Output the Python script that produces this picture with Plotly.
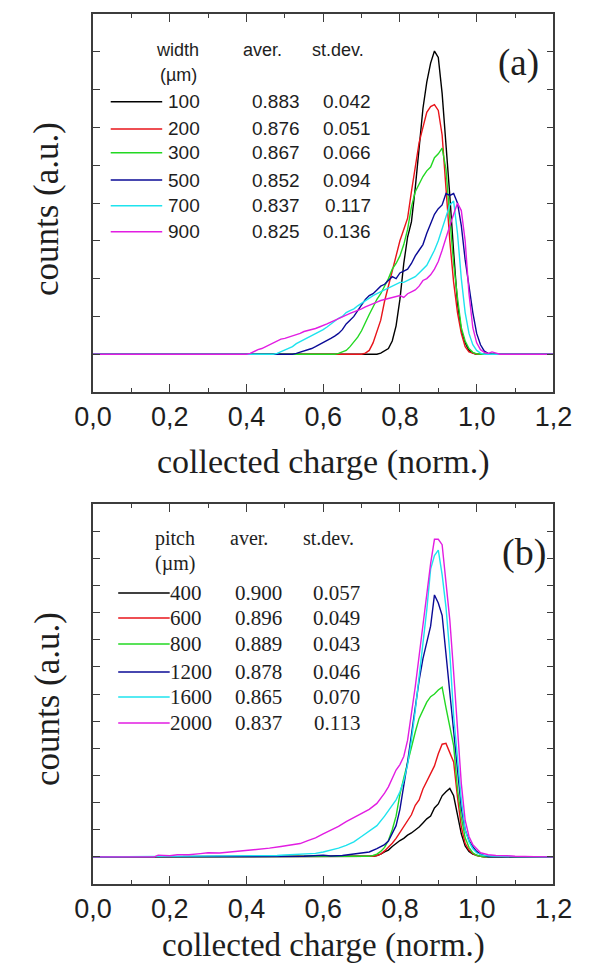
import plotly.graph_objects as go

W, H = 593, 966

# ---------------- data: panel (a) strip width ----------------
A_WIDTH = ["100", "200", "300", "500", "700", "900"]
A_AVER = ["0.883", "0.876", "0.867", "0.852", "0.837", "0.825"]
A_STDEV = ["0.042", "0.051", "0.066", "0.094", "0.117", "0.136"]

A100_X = [0.0, 0.74, 0.75, 0.76, 0.77, 0.78, 0.79, 0.80, 0.81, 0.82, 0.83, 0.84, 0.85, 0.86, 0.87,
          0.88, 0.89, 0.90, 0.91, 0.92, 0.93, 0.94, 0.95, 0.96, 0.97, 0.98, 0.99, 1.00, 1.2]
A100_Y = [0, 0, 0.03, 0.08, 0.15, 0.35, 0.75, 1.45, 2.4, 3.1, 3.5, 4.4, 5.4, 6.5, 7.2,
          7.7, 8.02, 7.85, 6.9, 5.6, 4.2, 2.7, 1.35, 0.63, 0.3, 0.1, 0.03, 0, 0]

A200_X = [0.0, 0.70, 0.71, 0.72, 0.73, 0.74, 0.75, 0.76, 0.77, 0.78, 0.79, 0.80, 0.81, 0.82, 0.83,
          0.84, 0.85, 0.86, 0.87, 0.88, 0.89, 0.90, 0.91, 0.92, 0.93, 0.94, 0.95, 0.96, 0.97,
          0.98, 0.99, 1.00, 1.2]
A200_Y = [0, 0, 0.03, 0.1, 0.3, 0.6, 0.9, 1.4, 1.8, 2.2, 2.6, 3.0, 3.3, 3.6, 4.3,
          5.0, 5.6, 6.0, 6.4, 6.55, 6.6, 6.45, 5.8, 4.4, 3.0, 1.9, 1.1, 0.55, 0.2,
          0.06, 0.02, 0, 0]

A300_X = [0.0, 0.63, 0.64, 0.65, 0.66, 0.67, 0.68, 0.69, 0.70, 0.71, 0.72, 0.73, 0.74, 0.75, 0.76,
          0.77, 0.78, 0.79, 0.80, 0.81, 0.82, 0.83, 0.84, 0.85, 0.86, 0.87, 0.88, 0.89, 0.90,
          0.91, 0.92, 0.93, 0.94, 0.95, 0.96, 0.97, 0.98, 0.99, 1.00, 1.01, 1.2]
A300_Y = [0, 0, 0.02, 0.05, 0.1, 0.2, 0.32, 0.45, 0.62, 0.85, 1.05, 1.25, 1.45, 1.6, 1.8,
          2.0, 2.25, 2.4, 2.6, 2.9, 3.3, 3.9, 4.3, 4.5, 4.7, 4.85, 4.95, 5.2, 5.3,
          5.45, 4.9, 3.6, 2.4, 1.5, 0.7, 0.35, 0.15, 0.05, 0.01, 0, 0]

A500_X = [0.0, 0.52, 0.53, 0.54, 0.55, 0.56, 0.57, 0.58, 0.59, 0.60, 0.61, 0.62, 0.63, 0.64,
          0.65, 0.66, 0.67, 0.68, 0.69, 0.70, 0.71, 0.72, 0.73, 0.74, 0.75, 0.76, 0.77, 0.78,
          0.79, 0.80, 0.81, 0.82, 0.83, 0.84, 0.85, 0.86, 0.87, 0.88, 0.89, 0.90, 0.91, 0.92,
          0.93, 0.94, 0.95, 0.96, 0.97, 0.98, 0.99, 1.00, 1.01, 1.02, 1.03, 1.04, 1.2]
A500_Y = [0, 0, 0.02, 0.05, 0.08, 0.1, 0.15, 0.2, 0.25, 0.3, 0.35, 0.42, 0.48, 0.55,
          0.65, 0.8, 0.9, 1.0, 1.15, 1.3, 1.45, 1.55, 1.6, 1.7, 1.8, 1.85, 1.95, 2.05,
          2.0, 2.15, 2.2, 2.25, 2.4, 2.6, 2.75, 2.9, 3.2, 3.45, 3.7, 3.85, 3.95, 4.25,
          4.2, 4.25, 4.0, 3.4, 2.5, 1.8, 1.1, 0.55, 0.25, 0.08, 0.02, 0, 0]

A700_X = [0.0, 0.47, 0.48, 0.49, 0.50, 0.51, 0.52, 0.53, 0.54, 0.55, 0.56, 0.57, 0.58, 0.59,
          0.60, 0.61, 0.62, 0.63, 0.64, 0.65, 0.66, 0.67, 0.68, 0.69, 0.70, 0.71, 0.72, 0.73,
          0.74, 0.75, 0.76, 0.77, 0.78, 0.79, 0.80, 0.81, 0.82, 0.83, 0.84, 0.85, 0.86, 0.87,
          0.88, 0.89, 0.90, 0.91, 0.92, 0.93, 0.94, 0.95, 0.96, 0.97, 0.98, 0.99, 1.00, 1.01,
          1.02, 1.2]
A700_Y = [0, 0, 0.02, 0.06, 0.1, 0.15, 0.2, 0.28, 0.33, 0.38, 0.45, 0.5, 0.55, 0.6,
          0.65, 0.72, 0.8, 0.88, 0.95, 1.0, 1.1, 1.15, 1.2, 1.28, 1.35, 1.42, 1.5, 1.55,
          1.6, 1.65, 1.7, 1.75, 1.8, 1.85, 1.9, 1.9, 1.95, 2.0, 2.05, 2.15, 2.25, 2.35,
          2.55, 2.75, 3.0, 3.3, 3.65, 3.95, 4.05, 3.2, 2.0, 1.1, 0.55, 0.25, 0.1, 0.03,
          0, 0]

A900_X = [0.0, 0.40, 0.41, 0.42, 0.43, 0.44, 0.45, 0.46, 0.47, 0.48, 0.49, 0.50, 0.51, 0.52,
          0.53, 0.54, 0.55, 0.56, 0.57, 0.58, 0.59, 0.60, 0.61, 0.62, 0.63, 0.64, 0.65, 0.66,
          0.67, 0.68, 0.69, 0.70, 0.71, 0.72, 0.73, 0.74, 0.75, 0.76, 0.77, 0.78, 0.79, 0.80,
          0.81, 0.82, 0.83, 0.84, 0.85, 0.86, 0.87, 0.88, 0.89, 0.90, 0.91, 0.92, 0.93, 0.94,
          0.95, 0.96, 0.97, 0.98, 0.99, 1.00, 1.01, 1.02, 1.03, 1.04, 1.05, 1.06, 1.2]
A900_Y = [0, 0, 0.02, 0.08, 0.12, 0.15, 0.2, 0.25, 0.3, 0.35, 0.4, 0.42, 0.45, 0.48,
          0.5, 0.55, 0.6, 0.62, 0.65, 0.68, 0.72, 0.75, 0.8, 0.85, 0.9, 0.95, 1.0, 1.05,
          1.08, 1.12, 1.15, 1.2, 1.25, 1.3, 1.35, 1.38, 1.42, 1.45, 1.48, 1.5, 1.52, 1.55,
          1.5, 1.6, 1.65, 1.7, 1.8, 1.95, 2.0, 2.1, 2.25, 2.45, 2.75, 3.1, 3.4, 3.7,
          4.0, 3.8, 3.0, 1.6, 0.7, 0.3, 0.12, 0.05, 0.02, 0.06, 0.04, 0, 0]

# ---------------- data: panel (b) pitch ----------------
B_PITCH = ["400", "600", "800", "1200", "1600", "2000"]
B_AVER = ["0.900", "0.896", "0.889", "0.878", "0.865", "0.837"]
B_STDEV = ["0.057", "0.049", "0.043", "0.046", "0.070", "0.113"]

B400_X = [0.0, 0.72, 0.73, 0.74, 0.75, 0.76, 0.77, 0.78, 0.79, 0.80, 0.81, 0.82, 0.83, 0.84,
          0.85, 0.86, 0.87, 0.88, 0.89, 0.90, 0.91, 0.92, 0.93, 0.94, 0.95, 0.96, 0.97, 0.98,
          0.99, 1.00, 1.01, 1.02, 1.2]
B400_Y = [0, 0, 0.02, 0.05, 0.1, 0.18, 0.25, 0.38, 0.5, 0.6, 0.68, 0.8, 0.88, 0.98,
          1.1, 1.25, 1.4, 1.5, 1.8, 1.95, 2.25, 2.4, 2.52, 2.25, 1.6, 0.85, 0.4, 0.2,
          0.1, 0.05, 0.02, 0, 0]

B600_X = [0.0, 0.72, 0.73, 0.74, 0.75, 0.76, 0.77, 0.78, 0.79, 0.80, 0.81, 0.82, 0.83, 0.84,
          0.85, 0.86, 0.87, 0.88, 0.89, 0.90, 0.91, 0.92, 0.93, 0.94, 0.95, 0.96, 0.97, 0.98,
          0.99, 1.00, 1.01, 1.02, 1.2]
B600_Y = [0, 0, 0.02, 0.05, 0.1, 0.22, 0.35, 0.5, 0.68, 0.9, 1.1, 1.3, 1.55, 1.9,
          2.1, 2.5, 2.8, 3.1, 3.35, 3.8, 4.15, 4.18, 3.8, 3.5, 2.2, 1.1, 0.5, 0.25,
          0.12, 0.05, 0.02, 0, 0]

B800_X = [0.0, 0.71, 0.72, 0.73, 0.74, 0.75, 0.76, 0.77, 0.78, 0.79, 0.80, 0.81, 0.82, 0.83,
          0.84, 0.85, 0.86, 0.87, 0.88, 0.89, 0.90, 0.91, 0.92, 0.93, 0.94, 0.95, 0.96, 0.97,
          0.98, 0.99, 1.00, 1.01, 1.02, 1.2]
B800_Y = [0, 0, 0.02, 0.05, 0.1, 0.2, 0.35, 0.6, 1.0, 1.5, 2.3, 2.9, 3.5, 4.0,
          4.6, 5.1, 5.4, 5.7, 5.9, 6.0, 6.15, 6.25, 5.5, 4.8, 4.1, 2.5, 1.45, 0.7,
          0.35, 0.15, 0.06, 0.02, 0, 0]

B1200_X = [0.0, 0.44, 0.50, 0.55, 0.60, 0.62, 0.65, 0.68, 0.70, 0.72, 0.74, 0.75, 0.76, 0.77,
           0.78, 0.79, 0.80, 0.81, 0.82, 0.83, 0.84, 0.85, 0.86, 0.87, 0.88, 0.89, 0.90, 0.91,
           0.92, 0.93, 0.94, 0.95, 0.96, 0.97, 0.98, 0.99, 1.00, 1.01, 1.02, 1.03, 1.2]
B1200_Y = [0, 0, 0.02, 0.02, 0.06, 0.03, 0.05, 0.1, 0.12, 0.18, 0.3, 0.38, 0.45, 0.58,
           0.85, 1.15, 1.75, 2.58, 3.5, 4.5, 5.6, 6.5, 7.3, 7.9, 8.5, 9.65, 9.35, 8.9,
           7.5, 6.0, 4.6, 3.1, 1.8, 1.0, 0.6, 0.37, 0.2, 0.1, 0.05, 0, 0]

B1600_X = [0.0, 0.20, 0.30, 0.40, 0.45, 0.48, 0.50, 0.52, 0.54, 0.56, 0.58, 0.60, 0.62, 0.64,
           0.66, 0.68, 0.70, 0.72, 0.74, 0.76, 0.77, 0.78, 0.79, 0.80, 0.81, 0.82, 0.83, 0.84,
           0.85, 0.86, 0.87, 0.88, 0.89, 0.90, 0.91, 0.92, 0.93, 0.94, 0.95, 0.96, 0.97, 0.98,
           0.99, 1.00, 1.01, 1.02, 1.04, 1.06, 1.10, 1.2]
B1600_Y = [0, 0.01, 0.02, 0.03, 0.04, 0.05, 0.07, 0.08, 0.1, 0.1, 0.13, 0.18, 0.25, 0.32,
           0.42, 0.55, 0.75, 0.95, 1.15, 1.5, 1.7, 1.9, 2.1, 2.4, 2.8, 3.4, 4.3, 5.4,
           6.6, 7.8, 9.1, 10.6, 11.1, 11.3, 10.4, 9.2, 7.5, 5.2, 3.6, 2.1, 1.0, 0.55,
           0.3, 0.15, 0.08, 0.05, 0.03, 0.02, 0.01, 0]

B2000_X = [0.0, 0.16, 0.17, 0.20, 0.22, 0.25, 0.28, 0.30, 0.33, 0.36, 0.40, 0.43, 0.46, 0.49,
           0.52, 0.54, 0.56, 0.58, 0.60, 0.62, 0.64, 0.66, 0.68, 0.70, 0.72, 0.74, 0.75, 0.76,
           0.77, 0.78, 0.79, 0.80, 0.81, 0.82, 0.83, 0.84, 0.85, 0.86, 0.87, 0.88, 0.89, 0.90,
           0.91, 0.92, 0.93, 0.94, 0.95, 0.96, 0.97, 0.98, 0.99, 1.00, 1.01, 1.03, 1.05, 1.08,
           1.10, 1.15, 1.2]
B2000_Y = [0, 0, 0.06, 0.04, 0.08, 0.08, 0.12, 0.15, 0.14, 0.18, 0.22, 0.28, 0.32, 0.38,
           0.45, 0.49, 0.6, 0.7, 0.85, 0.98, 1.12, 1.3, 1.45, 1.6, 1.75, 1.97, 2.15, 2.35,
           2.58, 2.9, 3.2, 3.4, 3.7, 4.3, 5.2, 6.27, 7.4, 8.6, 9.7, 10.8, 11.7, 11.7,
           11.5, 10.2, 8.73, 6.8, 4.6, 2.7, 1.35, 0.75, 0.45, 0.3, 0.15, 0.08, 0.05, 0.04,
           0.02, 0.01, 0]

COLORS = ["#000000", "#e8141a", "#22d822", "#0a0a96", "#1ee3ee", "#e21de2"]

A_SERIES = [(A100_X, A100_Y), (A200_X, A200_Y), (A300_X, A300_Y),
            (A500_X, A500_Y), (A700_X, A700_Y), (A900_X, A900_Y)]
B_SERIES = [(B400_X, B400_Y), (B600_X, B600_Y), (B800_X, B800_Y),
            (B1200_X, B1200_Y), (B1600_X, B1600_Y), (B2000_X, B2000_Y)]

fig = go.Figure()
for (xs, ys), c in zip(A_SERIES, COLORS):
    fig.add_trace(go.Scatter(x=xs, y=ys, mode="lines", line=dict(color=c, width=1.4),
                             xaxis="x", yaxis="y", showlegend=False))
for (xs, ys), c in zip(B_SERIES, COLORS):
    fig.add_trace(go.Scatter(x=xs, y=ys, mode="lines", line=dict(color=c, width=1.4),
                             xaxis="x2", yaxis="y2", showlegend=False))


def px(x):
    return x / W


def py(y):
    return 1 - y / H


AX = "#3c3c3c"
SANS = "Liberation Sans, Arial, sans-serif"
SERIF = "Liberation Serif, Times New Roman, serif"

xdom = [px(79), px(571)]
common_x = dict(range=[0, 1.2], dtick=0.2, tick0=0, tickformat=".1f", ticks="inside",
                ticklen=8, tickwidth=1.2, tickcolor=AX, showline=True, linecolor=AX,
                linewidth=1.5, mirror="allticks", showgrid=False, zeroline=False,
                tickfont=dict(family=SANS, size=27, color="#1e1e1e"),
                minor=dict(dtick=0.1, ticks="inside", ticklen=4, tickcolor=AX, tickwidth=1.0),
                domain=xdom)
common_y = dict(dtick=1, tick0=0, ticks="inside", ticklen=7, tickwidth=1.2, tickcolor=AX,
                showline=True, linecolor=AX, linewidth=1.5, mirror="allticks",
                showgrid=False, zeroline=False, showticklabels=False)

fig.update_layout(
    width=W, height=H, autosize=False,
    margin=dict(l=0, r=0, t=0, b=0),
    paper_bgcolor="white", plot_bgcolor="white",
    separators=",.",
    xaxis=dict(**common_x, anchor="y"),
    yaxis=dict(**common_y, range=[-1, 9], domain=[py(392), py(14)], anchor="x"),
    xaxis2=dict(**common_x, anchor="y2"),
    yaxis2=dict(**common_y, range=[-1, 13], domain=[py(884), py(504)], anchor="x2"),
)

ann = []
shapes = []


def text(x, y, s, size, family, xanchor="center", yanchor="middle", angle=0):
    ann.append(dict(x=px(x), y=py(y), xref="paper", yref="paper", text=s, showarrow=False,
                    xanchor=xanchor, yanchor=yanchor, textangle=angle,
                    font=dict(family=family, size=size, color="#1e1e1e")))


# axis titles
for top in (0, 490):
    text(30, 209 + top, "counts (a.u.)", 35, SERIF, angle=-90)
text(325, 462, "collected charge (norm.)", 34, SERIF)
text(325, 966, "collected charge (norm.)", 33, SERIF, yanchor="bottom")

# panel labels
text(534, 63, "(a)", 37, SERIF)
text(540, 552, "(b)", 38, SERIF)

# legend (a)
A_ROWS = [101.7, 129, 152.7, 180, 205.7, 231.7]
text(194, 50, "width", 18, SANS, xanchor="right")
text(192, 75, "(µm)", 18, SANS, xanchor="right")
text(260, 50, "aver.", 18, SANS)
text(341, 50, "st.dev.", 18, SANS)
for i, yy in enumerate(A_ROWS):
    shapes.append(dict(type="line", xref="paper", yref="paper", x0=px(98), x1=px(153),
                       y0=py(yy), y1=py(yy), line=dict(color=COLORS[i], width=1.4)))
    text(195, yy, A_WIDTH[i], 19, SANS, xanchor="right")
    text(302, yy, A_AVER[i], 19, SANS, xanchor="right")
    text(378, yy, A_STDEV[i], 19, SANS, xanchor="right")

# legend (b)
B_ROWS = [593, 618, 644, 672, 697, 723]
text(190, 538, "pitch", 20, SERIF, xanchor="right")
text(190, 563, "(µm)", 20, SERIF, xanchor="right")
text(246, 538, "aver.", 20, SERIF)
text(331, 538, "st.dev.", 20, SERIF)
for i, yy in enumerate(B_ROWS):
    shapes.append(dict(type="line", xref="paper", yref="paper", x0=px(106), x1=px(161),
                       y0=py(yy), y1=py(yy), line=dict(color=COLORS[i], width=1.4)))
    text(159, yy, B_PITCH[i], 21, SERIF, xanchor="left")
    text(283, yy, B_AVER[i], 21, SERIF, xanchor="right")
    text(367, yy, B_STDEV[i], 21, SERIF, xanchor="right")

fig.update_layout(annotations=ann, shapes=shapes)
fig.write_html("out.html")
